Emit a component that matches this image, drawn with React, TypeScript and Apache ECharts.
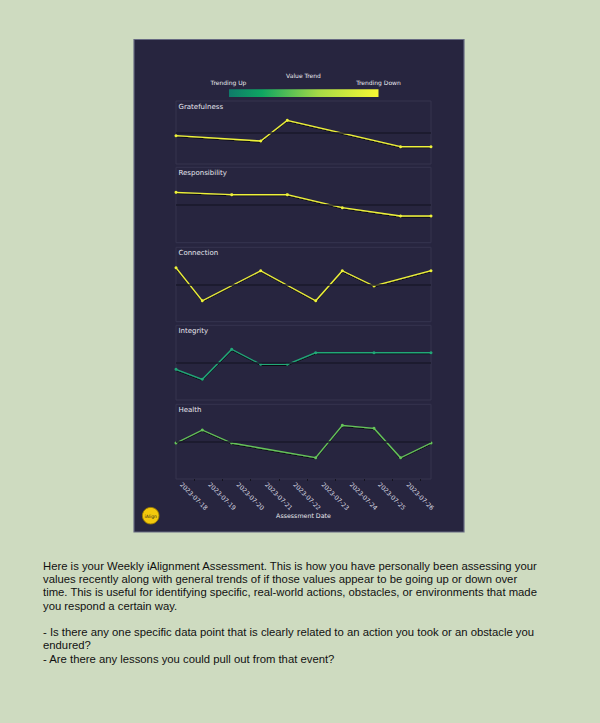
import React, { useEffect, useRef } from "react";
import * as echarts from "echarts";

// ---- Data ----
const assessmentTimes: string[] = [
  "2023-07-17T08:44:00Z",
  "2023-07-18T07:02:00Z",
  "2023-07-19T07:58:00Z",
  "2023-07-20T08:34:00Z",
  "2023-07-21T07:08:00Z",
  "2023-07-22T07:12:00Z",
  "2023-07-23T05:46:00Z",
  "2023-07-24T08:38:00Z",
  "2023-07-25T07:12:00Z",
  "2023-07-26T09:00:00Z",
];
const tickDates: string[] = [
  "2023-07-18", "2023-07-19", "2023-07-20", "2023-07-21", "2023-07-22",
  "2023-07-23", "2023-07-24", "2023-07-25", "2023-07-26",
];
const valueNames: string[] = ["Gratefulness", "Responsibility", "Connection", "Integrity", "Health"];
const gratefulness: (number | null)[] = [4.49, null, null, 3.65, 6.94, null, null, null, 2.75, 2.75];
const responsibility: (number | null)[] = [6.68, null, 6.37, null, 6.37, null, 4.64, null, 3.54, 3.54];
const connection: (number | null)[] = [7.26, 2.82, null, 6.85, null, 2.82, 6.85, 4.8, null, 6.85];
const integrity: (number | null)[] = [4.11, 2.77, 6.79, 4.78, 4.78, 6.33, null, 6.33, null, 6.33];
const health: (number | null)[] = [4.82, 6.56, 4.82, null, null, 2.85, 7.19, 6.79, 2.85, 4.82];
const referenceLevel = 5;
const scaleMin = 0;
const scaleMax = 10;
const trendColors: string[] = ["#eef23a", "#eef23a", "#eef23a", "#22a878", "#66c45a"];

const paragraphLines: string[] = [
  "Here is your Weekly iAlignment Assessment. This is how you have personally been assessing your",
  "values recently along with general trends of if those values appear to be going up or down over",
  "time. This is useful for identifying specific, real-world actions, obstacles, or environments that made",
  "you respond a certain way.",
  "",
  "- Is there any one specific data point that is clearly related to an action you took or an obstacle you",
  "endured?",
  "- Are there any lessons you could pull out from that event?",
];

// ---- Layout ----
const gridLeft = 176;
const gridWidth = 255;
const gridBoxes = [
  { top: 101, height: 63 },
  { top: 167.3, height: 75.4 },
  { top: 247.3, height: 74.4 },
  { top: 325.3, height: 74.7 },
  { top: 404.3, height: 74.7 },
];

export default function App() {
  const ref = useRef<HTMLDivElement>(null);
  useEffect(() => {
    if (!ref.current) return;
    const chart = echarts.init(ref.current, null, { renderer: "svg" });
    const ts = assessmentTimes.map((s) => Date.parse(s));
    const tMin = ts[0];
    const tMax = ts[ts.length - 1];
    const ticks = tickDates.map((d) => Date.parse(d + "T00:00:00Z"));
    const allSeries = [gratefulness, responsibility, connection, integrity, health];
    const fmt = (v: number) => {
      const d = new Date(v);
      const p = (n: number) => (n < 10 ? "0" + n : "" + n);
      return d.getUTCFullYear() + "-" + p(d.getUTCMonth() + 1) + "-" + p(d.getUTCDate());
    };

    const grids = gridBoxes.map((b) => ({
      left: gridLeft,
      width: gridWidth,
      top: b.top,
      height: b.height,
      show: true,
      borderColor: "#36344f",
      borderWidth: 1,
      backgroundColor: "transparent",
    }));

    const xAxes = gridBoxes.map((_, i) => ({
      type: "value",
      gridIndex: i,
      min: tMin,
      max: tMax,
      splitLine: { show: false },
      axisLine: { show: false },
      axisTick: {
        show: i === 4,
        customValues: ticks,
        length: 2,
        lineStyle: { color: "#15141f", width: 1 },
      },
      axisLabel: {
        show: i === 4,
        customValues: ticks,
        formatter: (v: number) => fmt(v),
        rotate: -45,
        align: "center",
        verticalAlign: "middle",
        margin: 17,
        fontSize: 6.2,
        color: "#d8d8e0",
        fontFamily: "DejaVu Sans",
      },
    }));

    const yAxes = gridBoxes.map((_, i) => ({
      type: "value",
      gridIndex: i,
      min: scaleMin,
      max: scaleMax,
      show: false,
    }));

    const series = allSeries.map((vals, i) => ({
      type: "line",
      name: valueNames[i],
      xAxisIndex: i,
      yAxisIndex: i,
      data: vals
        .map((v, j) => (v == null ? null : [ts[j], v]))
        .filter((d) => d !== null),
      symbol: "circle",
      symbolSize: 3,
      showSymbol: true,
      itemStyle: { color: trendColors[i] },
      lineStyle: {
        color: trendColors[i],
        width: 1.3,
        shadowColor: "rgba(0,0,0,0.7)",
        shadowOffsetY: 1,
        shadowBlur: 0,
      },
      clip: true,
      markLine: {
        silent: true,
        symbol: "none",
        label: { show: false },
        lineStyle: { color: "#1a192b", width: 1.5, type: "solid" },
        data: [{ yAxis: referenceLevel }],
      },
    }));

    const graphic: any[] = [
      {
        type: "rect",
        shape: { x: 134, y: 39.5, width: 330, height: 492.5 },
        style: { fill: "#27253f", stroke: "#676a82", lineWidth: 1.2 },
        z: -10,
      },
      {
        type: "rect",
        shape: { x: 229, y: 89.3, width: 149.5, height: 7.7 },
        style: {
          fill: new echarts.graphic.LinearGradient(0, 0, 1, 0, [
            { offset: 0, color: "#0f7a6a" },
            { offset: 0.22, color: "#0ea662" },
            { offset: 0.6, color: "#a6da46" },
            { offset: 1, color: "#f8f833" },
          ]),
        },
      },
      {
        type: "text",
        x: 303.5,
        y: 75,
        style: { text: "Value Trend", fill: "#e8e8ee", fontSize: 6, fontFamily: "DejaVu Sans", align: "center", verticalAlign: "middle" },
      },
      {
        type: "text",
        x: 228.5,
        y: 82,
        style: { text: "Trending Up", fill: "#e8e8ee", fontSize: 6, fontFamily: "DejaVu Sans", align: "center", verticalAlign: "middle" },
      },
      {
        type: "text",
        x: 378.5,
        y: 82,
        style: { text: "Trending Down", fill: "#e8e8ee", fontSize: 6, fontFamily: "DejaVu Sans", align: "center", verticalAlign: "middle" },
      },
      {
        type: "text",
        x: 303.5,
        y: 515,
        style: { text: "Assessment Date", fill: "#e8e8ee", fontSize: 6.3, fontFamily: "DejaVu Sans", align: "center", verticalAlign: "middle" },
      },
      {
        type: "circle",
        shape: { cx: 150.7, cy: 515.7, r: 8.3 },
        style: { fill: "#f3c80c", stroke: "#9a7a00", lineWidth: 0.9 },
      },
      {
        type: "text",
        x: 150.7,
        y: 516,
        style: { text: "iAlign", fill: "#3a3020", fontSize: 4.5, fontFamily: "DejaVu Sans", align: "center", verticalAlign: "middle" },
      },
      {
        type: "text",
        x: 43,
        y: 559,
        style: {
          text: paragraphLines.join("\n"),
          fill: "#111111",
          fontSize: 11.3,
          lineHeight: 13.3,
          fontFamily: "Liberation Sans",
          align: "left",
          verticalAlign: "top",
        },
      },
    ];
    gridBoxes.forEach((b, i) => {
      graphic.push({
        type: "text",
        x: 178.5,
        y: b.top + 5.5,
        style: { text: valueNames[i], fill: "#e6e6ee", fontSize: 7, fontFamily: "DejaVu Sans", align: "left", verticalAlign: "middle" },
      });
    });

    chart.setOption({
      animation: false,
      backgroundColor: "#cedbc0",
      grid: grids,
      xAxis: xAxes,
      yAxis: yAxes,
      series,
      graphic,
    } as any);
    return () => chart.dispose();
  }, []);
  return (
    <div
      ref={ref}
      style={{ position: "absolute", left: 0, top: 0, width: 600, height: 723 }}
    />
  );
}
